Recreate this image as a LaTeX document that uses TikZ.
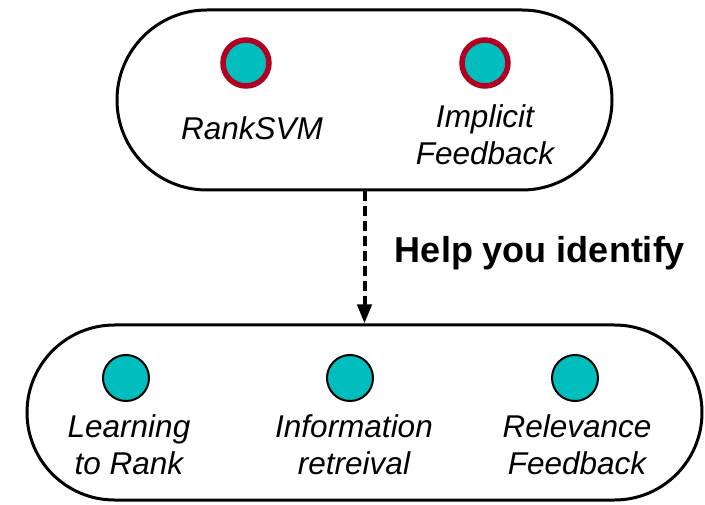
\documentclass[tikz,border=0pt]{standalone}
\usepackage{fontspec}
\setmainfont{Liberation Sans}
\usetikzlibrary{arrows.meta}
\definecolor{tealfill}{RGB}{0,190,190}
\definecolor{ringred}{RGB}{178,0,32}
\tikzset{
  group/.style={draw=black, line width=3pt, rounded corners=#1, inner sep=0pt},
  topdot/.style={circle, fill=tealfill, draw=ringred, line width=5.5pt, minimum size=46pt, inner sep=0pt},
  botdot/.style={circle, fill=tealfill, draw=black, line width=2pt, minimum size=46pt, inner sep=0pt},
  % multi-line terms: base anchor sits on the last line's baseline
  term/.style={align=center, anchor=base, inner sep=0pt,
    font=\fontsize{31.5}{37}\selectfont\itshape},
  link/.style={line width=4pt, dash pattern=on 10pt off 5pt,
    -{Triangle[width=14pt,length=19pt]}},
  linklabel/.style={anchor=base, inner sep=0pt, font=\fontsize{36}{40}\selectfont\bfseries}
}
\begin{document}
\begin{tikzpicture}[x=1pt,y=-1pt]
  \useasboundingbox (0,0) rectangle (705,505);
  % the two groups
  \node[group=90pt, minimum width=495pt, minimum height=180pt] (upper) at (364.5,100) {};
  \node[group=87.5pt, minimum width=675pt, minimum height=175pt] (lower) at (364.5,412.5) {};
  % upper group members
  \node[topdot] (d1) at (246,63) {};
  \node[topdot] (d2) at (485,63) {};
  \node[term] (t1) at (252,140) {RankSVM};
  \node[term] (t2) at (485,165) {Implicit\\Feedback};
  % lower group members
  \node[botdot] (e1) at (126,378) {};
  \node[botdot] (e2) at (350,378) {};
  \node[botdot] (e3) at (575,378) {};
  \node[term] (s1) at (129,474) {Learning\\to Rank};
  \node[term] (s2) at (354,474) {Information\\retreival};
  \node[term] (s3) at (577,474) {Relevance\\Feedback};
  % relation between the groups
  \draw[link] (upper.south) -- (lower.north);
  \node[linklabel] (lab) at (540,263) {Help you identify};
\end{tikzpicture}
\end{document}
